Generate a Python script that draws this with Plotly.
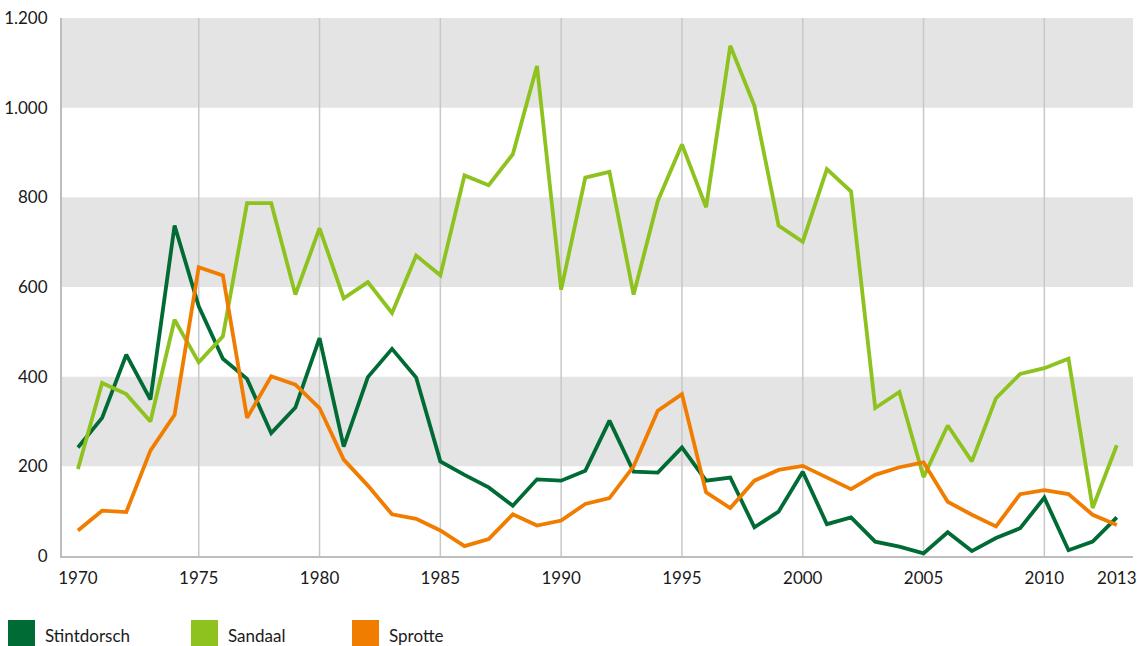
import plotly.graph_objects as go

years = list(range(1970, 2014))

stintdorsch = [242, 308, 449, 349, 737, 557, 440, 395, 274, 331,
               486, 244, 399, 462, 398, 211, 181, 153, 112, 171,
               168, 190, 302, 188, 186, 242, 168, 175, 64, 99,
               188, 71, 86, 32, 21, 6, 53, 11, 40, 62,
               130, 13, 32, 86]

sandaal = [194, 386, 361, 300, 527, 432, 490, 787, 787, 583,
           731, 575, 611, 542, 670, 626, 849, 827, 896, 1093,
           594, 844, 857, 583, 792, 918, 778, 1138, 1004, 737,
           701, 863, 813, 330, 366, 176, 291, 211, 352, 406,
           419, 440, 107, 247]

sprotte = [57, 101, 98, 235, 315, 644, 626, 308, 401, 382,
           330, 215, 157, 93, 83, 57, 22, 38, 93, 68,
           79, 116, 129, 200, 324, 361, 142, 107, 168, 192,
           201, 176, 149, 181, 198, 209, 121, 92, 66, 138,
           147, 138, 92, 69]

series_names = ["Stintdorsch", "Sandaal", "Sprotte"]
series_values = [stintdorsch, sandaal, sprotte]
colors = ["#006B34", "#8DC21F", "#F07D00"]

x_tickvals = [1970, 1975, 1980, 1985, 1990, 1995, 2000, 2005, 2010, 2013]
y_tickvals = [0, 200, 400, 600, 800, 1000, 1200]
grid_years = [1975, 1980, 1985, 1990, 1995, 2000, 2005, 2010]
bands = [(200, 400), (600, 800), (1000, 1200)]

FONT = "Lato"
TXT = "#1A1A1A"

fig = go.Figure()

shapes = []
for y0, y1 in bands:
    shapes.append(dict(type="rect", xref="paper", yref="y", x0=0, x1=1, y0=y0, y1=y1,
                       fillcolor="#E4E4E4", line=dict(width=0), layer="below"))
for gy in grid_years:
    shapes.append(dict(type="line", xref="x", yref="y", x0=gy, x1=gy, y0=0, y1=1200,
                       line=dict(color="#C8C8C8", width=1.5), layer="below"))

for name, vals, col in zip(series_names, series_values, colors):
    fig.add_trace(go.Scatter(x=years, y=vals, mode="lines", name=name,
                             line=dict(color=col, width=3.8), showlegend=False))

# legend drawn as squares + text
legend_x = [8, 191, 352]
annotations = []
for i, (name, col) in enumerate(zip(series_names, colors)):
    shapes.append(dict(type="rect", xref="paper", yref="paper",
                       x0=(legend_x[i] - 62) / 1071, x1=(legend_x[i] - 62 + 27) / 1071,
                       y0=-(620 - 556) / 538, y1=-(648 - 556) / 538,
                       fillcolor=col, line=dict(width=0)))
    annotations.append(dict(xref="paper", yref="paper", x=(legend_x[i] - 62 + 35) / 1071,
                            y=-(635 - 556) / 538, text=name, showarrow=False,
                            xanchor="left", yanchor="middle",
                            font=dict(family=FONT, size=17, color=TXT)))

fig.update_layout(
    width=1137, height=646,
    margin=dict(l=62, r=4, t=18, b=90, autoexpand=False),
    plot_bgcolor="white", paper_bgcolor="white",
    separators=",.",
    font=dict(family=FONT, size=17, color=TXT),
    shapes=shapes, annotations=annotations,
    xaxis=dict(range=[1969.34, 2013.67], tickvals=x_tickvals, showgrid=False,
               zeroline=False, showline=True, linecolor="#BDBDBD", linewidth=2,
               ticks="", ticklabelstandoff=6),
    yaxis=dict(range=[0, 1200], tickvals=y_tickvals, tickformat=",d", showgrid=False,
               zeroline=False, showline=True, linecolor="#BDBDBD", linewidth=2,
               ticks="", ticklabelstandoff=9),
)

fig.write_html("out.html", config={"displayModeBar": False},
               post_script="document.body.style.margin='0';document.body.style.overflow='hidden';")
